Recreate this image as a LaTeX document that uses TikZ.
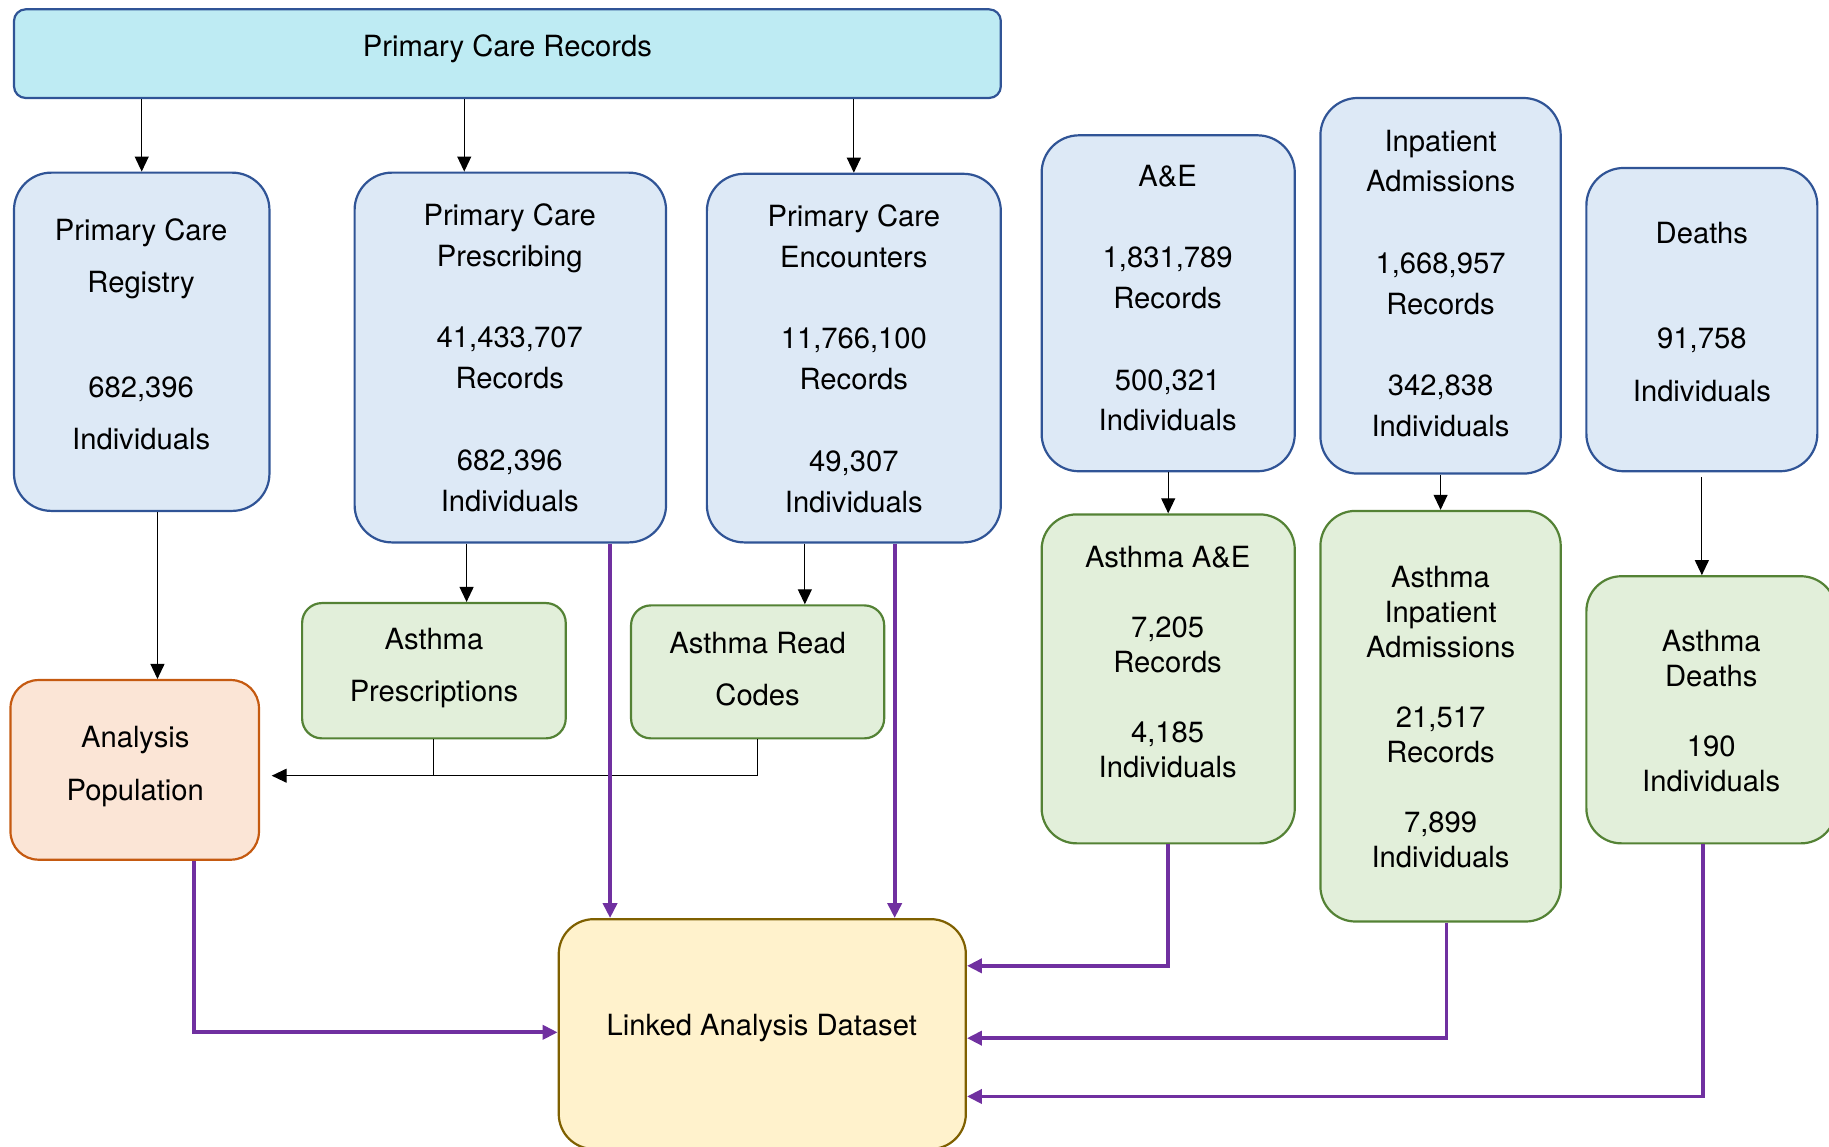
\documentclass[tikz,border=0pt]{standalone}
\usepackage{fontspec}
\setmainfont{TeX Gyre Heros}
\usetikzlibrary{arrows.meta}

\definecolor{topfill}{RGB}{190,235,243}
\definecolor{blueline}{RGB}{48,84,150}
\definecolor{bluefill}{RGB}{221,233,246}
\definecolor{greenline}{RGB}{84,130,53}
\definecolor{greenfill}{RGB}{226,239,218}
\definecolor{orangeline}{RGB}{197,90,17}
\definecolor{orangefill}{RGB}{251,229,214}
\definecolor{goldline}{RGB}{127,96,0}
\definecolor{goldfill}{RGB}{255,242,204}
\definecolor{linkpurple}{RGB}{112,48,160}

% one drawing unit
\newdimen\pxu
\pxu=0.5832pt

\begin{document}
\begin{tikzpicture}[x=0.5832pt, y=-0.5832pt,
  box/.style={draw, line width=1.1pt, inner sep=0pt, rounded corners=#1},
  topbox/.style={box=10\pxu, draw=blueline, fill=topfill},
  srcbox/.style={box=32\pxu, draw=blueline, fill=bluefill},
  subbox/.style={box=30\pxu, draw=greenline, fill=greenfill},
  smallbox/.style={box=17\pxu, draw=greenline, fill=greenfill},
  popbox/.style={box=24\pxu, draw=orangeline, fill=orangefill},
  linkbox/.style={box=30\pxu, draw=goldline, fill=goldfill},
  txt/.style={align=center, inner sep=0pt, text=black},
  lsA/.style={txt, font=\fontsize{14.6pt}{17.5pt}\selectfont},
  lsB/.style={txt, font=\fontsize{14.6pt}{20.4pt}\selectfont},
  lsC/.style={txt, font=\fontsize{14.6pt}{26.2pt}\selectfont},
  blk/.style={line width=0.55pt, black},
  arr/.style={blk, -{Triangle[length=7.5pt,width=7pt]}},
  parr/.style={line width=1.9pt, draw=linkpurple, -{Triangle[length=7.5pt,width=7pt]}}
]
\useasboundingbox (0,0) rectangle (1568,983);
\clip (0,0) rectangle (1568,983);

% ---- source boxes ----
\node[topbox, minimum width=846\pxu, minimum height=76\pxu] (top) at (435,46) {};
\node[lsB] (toptxt) at (435,42) {Primary Care Records};

\node[srcbox, minimum width=219\pxu, minimum height=290\pxu] (reg) at (121.5,293) {};
\node[lsC] (regtxt) at (121,286.5) {Primary Care\\Registry\\[26.2pt]682,396\\Individuals};

\node[srcbox, minimum width=267\pxu, minimum height=317\pxu] (presc) at (437.5,306.5) {};
\node[lsB] (presctxt) at (437,306.5) {Primary Care\\Prescribing\\[20.4pt]41,433,707\\Records\\[20.4pt]682,396\\Individuals};

\node[srcbox, minimum width=252\pxu, minimum height=316\pxu] (enc) at (732,307) {};
\node[lsB] (enctxt) at (732,307.5) {Primary Care\\Encounters\\[20.4pt]11,766,100\\Records\\[20.4pt]49,307\\Individuals};

\node[srcbox, minimum width=217\pxu, minimum height=288\pxu] (ae) at (1001.5,260) {};
\node[lsB] (aetxt) at (1001,255.5) {A\&E\\[20.4pt]1,831,789\\Records\\[20.4pt]500,321\\Individuals};

\node[srcbox, minimum width=206\pxu, minimum height=322\pxu] (inp) at (1235,245) {};
\node[lsB] (inptxt) at (1235,243) {Inpatient\\Admissions\\[20.4pt]1,668,957\\Records\\[20.4pt]342,838\\Individuals};

\node[srcbox, minimum width=198\pxu, minimum height=260\pxu] (dth) at (1459,274) {};
\node[lsC] (dthtxt) at (1459,267.5) {Deaths\\[26.2pt]91,758\\Individuals};

% ---- asthma subsets ----
\node[subbox, minimum width=217\pxu, minimum height=282\pxu] (aae) at (1001.5,582) {};
\node[lsA] (aaetxt) at (1001,567.5) {Asthma A\&E\\[17.5pt]7,205\\Records\\[17.5pt]4,185\\Individuals};

\node[subbox, minimum width=206\pxu, minimum height=352\pxu] (ainp) at (1235,614) {};
\node[lsA] (ainptxt) at (1235,614.5) {Asthma\\Inpatient\\Admissions\\[17.5pt]21,517\\Records\\[17.5pt]7,899\\Individuals};

\node[subbox, minimum width=214\pxu, minimum height=229\pxu] (adth) at (1467,608.5) {};
\node[lsA] (adthtxt) at (1467,609.5) {Asthma\\Deaths\\[17.5pt]190\\Individuals};

\node[smallbox, minimum width=226\pxu, minimum height=116\pxu] (apresc) at (372,575) {};
\node[lsC] (apresctxt) at (372,572.5) {Asthma\\Prescriptions};

\node[smallbox, minimum width=217\pxu, minimum height=114\pxu] (aread) at (649.5,576) {};
\node[lsC] (areadtxt) at (649.5,573.5) {Asthma Read\\Codes};

% ---- outputs ----
\node[popbox, minimum width=213\pxu, minimum height=154\pxu] (pop) at (115.5,660) {};
\node[lsC] (poptxt) at (116,657) {Analysis\\Population};

\node[linkbox, minimum width=349\pxu, minimum height=197\pxu] (linked) at (653.5,886.5) {};
\node[lsB] (linkedtxt) at (653,881.5) {Linked Analysis Dataset};

% ---- connector lanes ----
\coordinate (xa) at (398,0);
\coordinate (xb) at (135,0);
\coordinate (xc) at (400,0);
\coordinate (xd) at (690,0);
\coordinate (xe) at (523,0);
\coordinate (xf) at (767,0);
\coordinate (xg) at (1240,0);
\coordinate (xh) at (1460,0);
\coordinate (xi) at (166,0);
\coordinate (yj) at (0,665);
\coordinate (yk) at (0,828);
\coordinate (yl) at (0,890);
\coordinate (ym) at (0,940);
\coordinate (yn) at (0,885);

% ---- extraction arrows ----
\draw[arr] (top.south -| reg.north) -- (reg.north);
\draw[arr] (top.south -| xa) -- (presc.north -| xa);
\draw[arr] (top.south -| enc.north) -- (enc.north);
\draw[arr] (reg.south -| xb) -- (pop.north -| xb);
\draw[arr] (presc.south -| xc) -- (apresc.north -| xc);
\draw[arr] (enc.south -| xd) -- (aread.north -| xd);
\draw[blk] (apresc.south) -- (apresc.south |- yj);
\draw[arr, shorten >=10\pxu] (aread.south) -- (aread.south |- yj) -- (pop.east |- yj);
\draw[arr] (ae.south) -- (aae.north);
\draw[arr] (inp.south) -- (ainp.north);
\draw[arr, shorten <=4\pxu] (dth.south) -- (adth.north -| dth.south);

% ---- linkage arrows ----
\draw[parr] (presc.south -| xe) -- (linked.north -| xe);
\draw[parr] (enc.south -| xf) -- (linked.north -| xf);
\draw[parr] (aae.south) |- (linked.east |- yk);
\draw[parr] (ainp.south -| xg) |- (linked.east |- yl);
\draw[parr] (adth.south -| xh) |- (linked.east |- ym);
\draw[parr] (pop.south -| xi) |- (linked.west |- yn);
\end{tikzpicture}
\end{document}
